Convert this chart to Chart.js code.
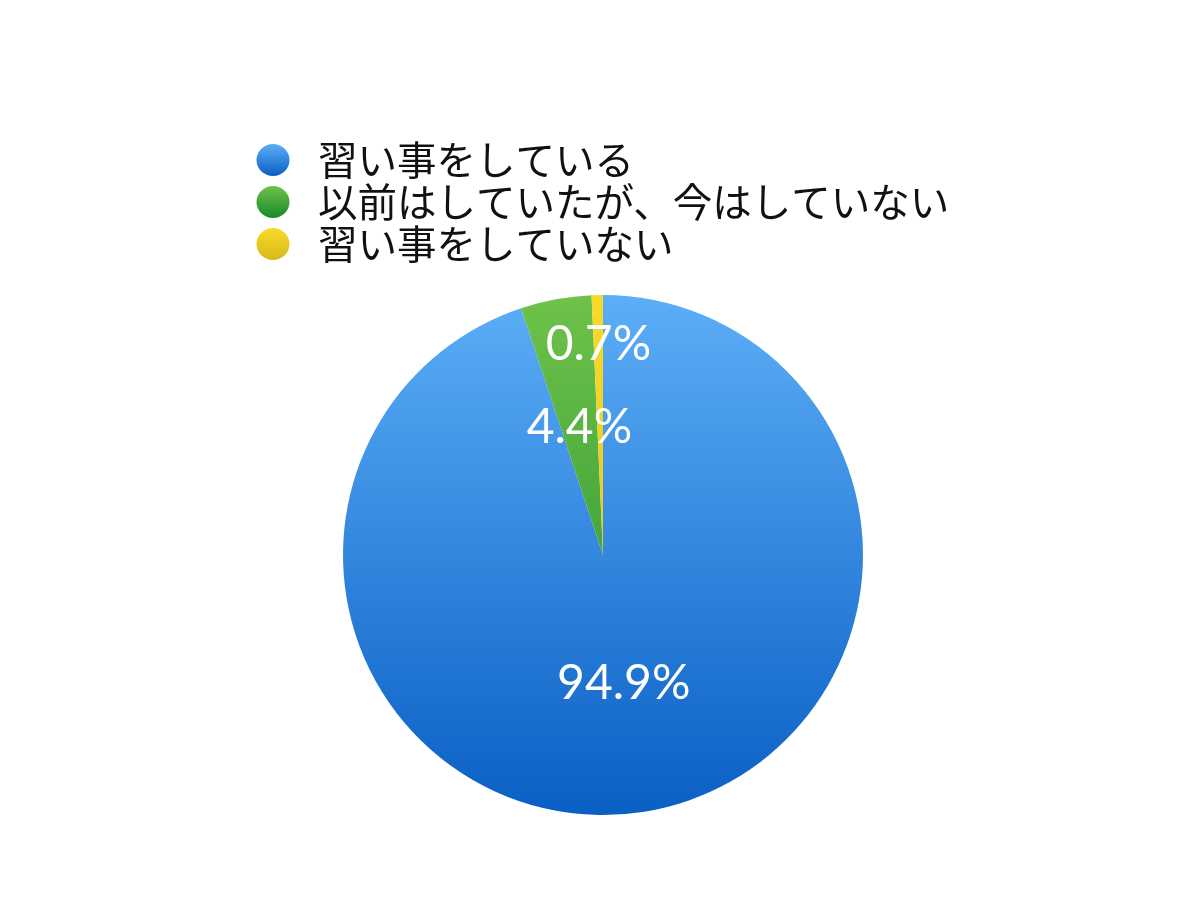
<!DOCTYPE html>
<html>
<head>
<meta charset="utf-8">
<script src="https://cdn.jsdelivr.net/npm/chart.js@4.4.1/dist/chart.umd.min.js"></script>
<style>
  html, body { margin: 0; padding: 0; background: #fff; }
  #wrap { width: 1200px; height: 900px; }
</style>
</head>
<body>
<div id="wrap"><canvas id="pie"></canvas></div>
<script>
// ─────────────────────────────────────────
// DATA
// ─────────────────────────────────────────
const LABELS = ['習い事をしている', '以前はしていたが、今はしていない', '習い事をしていない'];
const VALUES = [94.9, 4.4, 0.7];
const VALUE_TEXT = ['94.9%', '4.4%', '0.7%'];

// top / bottom colour of each slice gradient
const GRAD_TOP = ['#5caef7', '#6fc24a', '#f8da2a'];
const GRAD_BOTTOM = ['#0a5fc4', '#178a2c', '#d9b81a'];
// how far out along the slice the label sits (fraction of radius)
const LABEL_RADIUS = [0.5, 0.5, 0.81];

const JP_FONT = "'Noto Sans CJK JP', 'Noto Sans', sans-serif";
const NUM_FONT = "'Lato', 'Open Sans', sans-serif";

function vGradient(ctx, y0, y1, top, bottom) {
  const g = ctx.createLinearGradient(0, y0, 0, y1);
  g.addColorStop(0, top);
  g.addColorStop(1, bottom);
  return g;
}

// ─────────────────────────────────────────
// PLUGINS — value labels + stacked legend
// ─────────────────────────────────────────
const valueLabels = {
  id: 'valueLabels',
  afterDatasetsDraw(chart) {
    const { ctx } = chart;
    const arcs = chart.getDatasetMeta(0).data;
    ctx.save();
    ctx.fillStyle = '#ffffff';
    ctx.font = `400 48px ${NUM_FONT}`;
    ctx.textAlign = 'center';
    ctx.textBaseline = 'middle';
    arcs.forEach((arc, i) => {
      const mid = (arc.startAngle + arc.endAngle) / 2;
      const r = arc.outerRadius * LABEL_RADIUS[i];
      ctx.fillText(VALUE_TEXT[i], arc.x + Math.cos(mid) * r, arc.y + Math.sin(mid) * r);
    });
    ctx.restore();
  },
};

const stackedLegend = {
  id: 'stackedLegend',
  afterDraw(chart) {
    const { ctx } = chart;
    const x0 = 273, y0 = 160, step = 42;
    ctx.save();
    ctx.font = `39.5px ${JP_FONT}`;
    ctx.textBaseline = 'middle';
    ctx.textAlign = 'left';
    LABELS.forEach((label, i) => {
      const y = y0 + i * step;
      ctx.fillStyle = vGradient(ctx, y - 16, y + 16, GRAD_TOP[i], GRAD_BOTTOM[i]);
      ctx.beginPath();
      ctx.ellipse(x0, y, 16.5, 16, 0, 0, Math.PI * 2);
      ctx.fill();
      ctx.fillStyle = '#111111';
      ctx.fillText(label, x0 + 45, y);
    });
    ctx.restore();
  },
};

// ─────────────────────────────────────────
// CHART
// ─────────────────────────────────────────
new Chart(document.getElementById('pie'), {
  type: 'pie',
  data: {
    labels: LABELS,
    datasets: [{
      data: VALUES,
      backgroundColor(c) {
        const area = c.chart.chartArea;
        if (!area) return GRAD_TOP[c.dataIndex];
        return vGradient(c.chart.ctx, area.top, area.bottom, GRAD_TOP[c.dataIndex], GRAD_BOTTOM[c.dataIndex]);
      },
      borderWidth: 0,
    }],
  },
  options: {
    responsive: true,
    maintainAspectRatio: false,
    animation: false,
    layout: { padding: { top: 295, bottom: 85, left: 6, right: 0 } },
    plugins: {
      legend: { display: false },
      tooltip: { enabled: false },
    },
  },
  plugins: [valueLabels, stackedLegend],
});
</script>
</body>
</html>
